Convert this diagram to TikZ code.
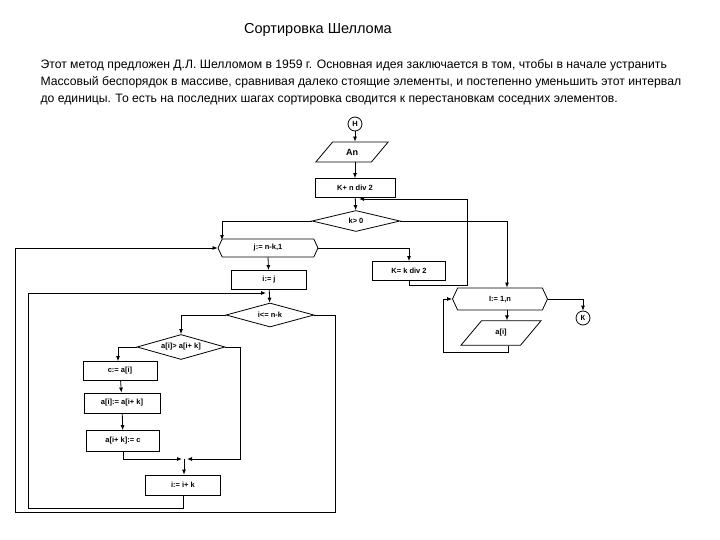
\documentclass[tikz,border=0pt]{standalone}
\usepackage{fontspec}
\setmainfont{Liberation Sans}
\usetikzlibrary{shapes.geometric,shapes.symbols,arrows.meta}
\begin{document}
\begin{tikzpicture}[x=1pt,y=-1pt,
  every node/.style={font=\bfseries\fontsize{7.5}{8}\selectfont},
  box/.style={draw,thick,rectangle,minimum height=19pt,inner sep=0pt},
  par/.style={draw,thick,trapezium,trapezium left angle=50,trapezium right angle=130,minimum height=20pt,inner sep=0pt},
  dia/.style={draw,thick,diamond,aspect=4,inner sep=0pt},
  hex/.style={draw,thick,signal,signal to=east and west,signal pointer angle=130,minimum height=18pt,inner sep=0pt},
  term/.style={draw,thick,circle,minimum size=14pt,inner sep=0pt},
  txt/.style={anchor=base west,font=\fontsize{12.2}{14}\selectfont},
  ar/.style={thick,-{Latex[length=5pt,width=4pt]}},
  ln/.style={thick}]
\useasboundingbox (0,0) rectangle (720,540);
\node[font=\fontsize{14.5}{16}\selectfont] (title) at (318,30) {Сортировка Шеллома};
\node[txt] (l1) at (37,69) {Этот метод предложен Д.Л. Шелломом в 1959 г. Основная идея заключается в том, чтобы в начале устранить};
\node[txt] (l2) at (37,86) {Массовый беспорядок в массиве, сравнивая далеко стоящие элементы, и постепенно уменьшить этот интервал};
\node[txt] (l3) at (37,103) {до единицы. То есть на последних шагах сортировка сводится к перестановкам соседних элементов.};

\node[term] (H) at (355,124) {Н};
\node[par,minimum width=72pt] (An) at (352,152) {\fontsize{9}{10}\selectfont An};
\node[box,minimum width=80pt] (K1) at (355,188) {K+ n div 2};
\node[dia,minimum width=88pt,minimum height=21pt] (k0) at (356,221) {k> 0};
\node[hex,minimum width=100pt] (j) at (268,248) {j:= n-k,1};
\node[box,minimum width=73pt] (K2) at (409,271) {K= k div 2};
\node[box,minimum width=75pt] (ij) at (269,280) {i:= j};
\node[dia,minimum width=88pt,minimum height=24pt] (ink) at (270,315) {i<= n-k};
\node[dia,minimum width=88pt,minimum height=25pt] (cmp) at (181,347) {a[i]> a[i+ k]};
\node[box,minimum width=74pt] (c) at (120,371) {c:= a[i]};
\node[box,minimum width=76pt,minimum height=20pt] (s1) at (122,403) {a[i]:= a[i+ k]};
\node[box,minimum width=73pt,minimum height=21pt] (s2) at (123,441) {a[i+ k]:= c};
\node[box,minimum width=75pt,minimum height=20pt] (inc) at (183,485) {i:= i+ k};
\node[hex,minimum width=95pt,minimum height=22pt] (I) at (500,299) {I:= 1,n};
\node[par,minimum width=80pt] (ai) at (501,333) {a[i]};
\node[term] (K) at (583,318) {К};

\draw[ar] (H) -- (An.north -| H);
\draw[ar] (An.south -| H) -- (K1);
\draw[ar] (K1) -- (k0);
\draw[ar] (k0.west) -| (222,240);
\draw[ar] (k0.east) -| (I.north -| 507,0);
\draw[ar] (j.east) -| (K2.north);
\draw[ar] (K2.south) |- (467,285) -- (467,199) -- (359,199);
\draw[ar] (268,257) -- (ij);
\draw[ar] (ij) -- (ink);
\draw[ar] (ink.west) -| (cmp.north);
\draw[ar] (cmp.west) -| (c.north -| 118,0);
\draw[ar] (c) -- (s1);
\draw[ar] (s1) -- (s2);
\draw[ar] (s2.south) |- (182,459);
\draw[ar] (cmp.east) -| (240,459) -- (187,459);
\draw[ar] (184,459) -- (inc.north -| 184,0);
\draw[ar] (inc.south) |- (28,508) |- (266,293);
\draw[ar] (ink.east) -| (335,512) -| (15,248) -- (j.west);
\draw[ar] (I.east) -| (K.north);
\draw[ar] (I.south -| 507,0) -- (ai.north -| 507,0);
\draw[ar] (ai.south -| 508,0) |- (443,352) |- (I.west);
\end{tikzpicture}
\end{document}
